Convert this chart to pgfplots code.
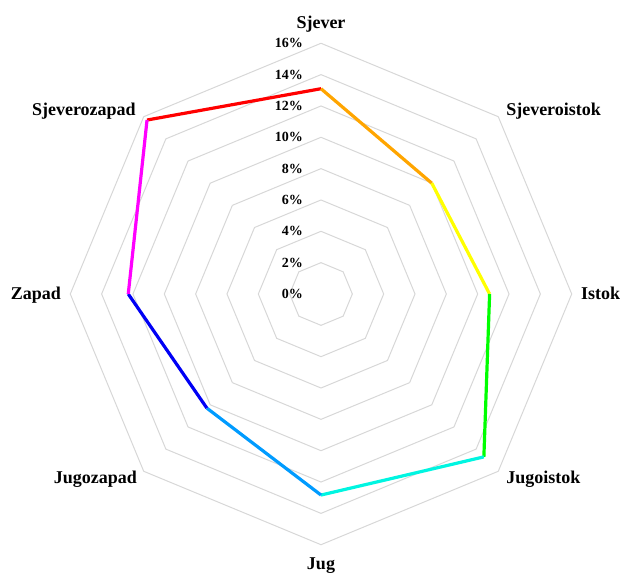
\documentclass[border=0pt]{standalone}
\usepackage{fontspec}
\setmainfont{Liberation Serif}
\usepackage{pgfplots}
\pgfplotsset{compat=1.18}
\definecolor{gridc}{RGB}{215,215,215}
\definecolor{cOrange}{RGB}{255,165,0}
\definecolor{cYellow}{RGB}{255,255,0}
\definecolor{cGreen}{RGB}{0,255,0}
\definecolor{cAqua}{RGB}{0,245,225}
\definecolor{cSky}{RGB}{0,155,255}
\definecolor{cBlue}{RGB}{0,0,245}
\definecolor{cMag}{RGB}{255,0,255}
\definecolor{cRed}{RGB}{255,0,0}
\begin{document}
\begin{tikzpicture}
\begin{axis}[
  scale only axis, width=622pt, height=572pt,
  xmin=-20.485, xmax=19.209, ymin=-17.741, ymax=18.762,
  hide axis, clip=false,
]
% grid octagons
\addplot[data cs=polar, gridc, line width=1pt] coordinates {(90,2)(45,2)(0,2)(-45,2)(-90,2)(-135,2)(180,2)(135,2)(90,2)};
\addplot[data cs=polar, gridc, line width=1pt] coordinates {(90,4)(45,4)(0,4)(-45,4)(-90,4)(-135,4)(180,4)(135,4)(90,4)};
\addplot[data cs=polar, gridc, line width=1pt] coordinates {(90,6)(45,6)(0,6)(-45,6)(-90,6)(-135,6)(180,6)(135,6)(90,6)};
\addplot[data cs=polar, gridc, line width=1pt] coordinates {(90,8)(45,8)(0,8)(-45,8)(-90,8)(-135,8)(180,8)(135,8)(90,8)};
\addplot[data cs=polar, gridc, line width=1pt] coordinates {(90,10)(45,10)(0,10)(-45,10)(-90,10)(-135,10)(180,10)(135,10)(90,10)};
\addplot[data cs=polar, gridc, line width=1pt] coordinates {(90,12)(45,12)(0,12)(-45,12)(-90,12)(-135,12)(180,12)(135,12)(90,12)};
\addplot[data cs=polar, gridc, line width=1pt] coordinates {(90,14)(45,14)(0,14)(-45,14)(-90,14)(-135,14)(180,14)(135,14)(90,14)};
\addplot[data cs=polar, gridc, line width=1pt] coordinates {(90,16)(45,16)(0,16)(-45,16)(-90,16)(-135,16)(180,16)(135,16)(90,16)};
% data segments
\addplot[data cs=polar, cRed, line width=3.2pt] coordinates {(135,15.7)(90,13.1)};
\addplot[data cs=polar, cOrange, line width=3.2pt] coordinates {(90,13.1)(45,10.0)};
\addplot[data cs=polar, cYellow, line width=3.2pt] coordinates {(45,10.0)(0,10.76)};
\addplot[data cs=polar, cGreen, line width=3.2pt] coordinates {(0,10.76)(-45,14.7)};
\addplot[data cs=polar, cAqua, line width=3.2pt] coordinates {(-45,14.7)(-90,12.83)};
\addplot[data cs=polar, cSky, line width=3.2pt] coordinates {(-90,12.83)(-135,10.3)};
\addplot[data cs=polar, cBlue, line width=3.2pt] coordinates {(-135,10.3)(180,12.3)};
\addplot[data cs=polar, cMag, line width=3.2pt] coordinates {(180,12.3)(135,15.7)};
% tick labels
\pgfplotsinvokeforeach{0,2,4,6,8,10,12,14,16}{
  \node[anchor=east, inner sep=0pt, font=\fontsize{14}{16}\selectfont\bfseries] at (axis cs:-1.15,#1) {#1\%};
}
% category labels
\node[anchor=base, inner sep=0pt, font=\fontsize{18}{20}\selectfont\bfseries] at (axis cs:0,16.93) {Sjever};
\node[anchor=base west, inner sep=0pt, font=\fontsize{18}{20}\selectfont\bfseries] at (axis cs:11.81,11.42) {Sjeveroistok};
\node[anchor=base west, inner sep=0pt, font=\fontsize{18}{20}\selectfont\bfseries] at (axis cs:16.59,-0.34) {Istok};
\node[anchor=base west, inner sep=0pt, font=\fontsize{18}{20}\selectfont\bfseries] at (axis cs:11.81,-12.08) {Jugoistok};
\node[anchor=base, inner sep=0pt, font=\fontsize{18}{20}\selectfont\bfseries] at (axis cs:0,-17.55) {Jug};
\node[anchor=base east, inner sep=0pt, font=\fontsize{18}{20}\selectfont\bfseries] at (axis cs:-11.74,-12.08) {Jugozapad};
\node[anchor=base east, inner sep=0pt, font=\fontsize{18}{20}\selectfont\bfseries] at (axis cs:-16.59,-0.34) {Zapad};
\node[anchor=base east, inner sep=0pt, font=\fontsize{18}{20}\selectfont\bfseries] at (axis cs:-11.81,11.42) {Sjeverozapad};
\path (axis cs:-20.485,-17.741) rectangle (axis cs:19.209,18.762);
\end{axis}
\end{tikzpicture}
\end{document}
